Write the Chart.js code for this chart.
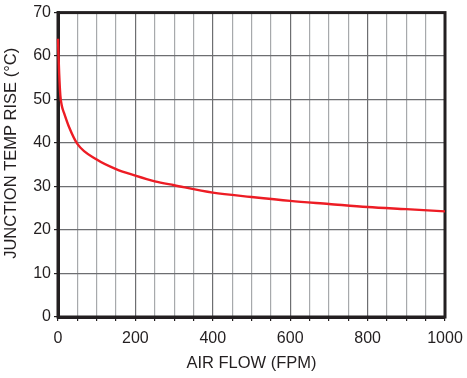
<!DOCTYPE html>
<html>
<head>
<meta charset="utf-8">
<script src="https://cdn.jsdelivr.net/npm/chart.js@4"></script>
<style>
  html, body { margin: 0; padding: 0; background: #fff; }
  #wrap { width: 467px; height: 378px; }
</style>
</head>
<body>
<div id="wrap"><canvas id="c" width="467" height="378"></canvas></div>
<script>
// air flow (FPM) and junction temperature rise (°C)
const airFlow = [0, 1, 3, 6, 10, 16, 28, 50, 100, 150, 200, 250, 300, 400, 500, 600, 700, 800, 900, 1000];
const tempRise = [64, 61, 56, 51, 48.5, 46.8, 43.8, 39.8, 36.2, 34.0, 32.5, 31.2, 30.3, 28.6, 27.6, 26.7, 26.0, 25.3, 24.8, 24.3];

const xMin = 0, xMax = 1000, xStep = 50, xLabelStep = 200;
const yMin = 0, yMax = 70, yStep = 10;

const FONT = "'Liberation Sans', Arial, Helvetica, sans-serif";
const TEXT = "#231f20";

// plot frame, drawn under the curve like in the original
const frame = {
  id: "frame",
  beforeDatasetsDraw(chart) {
    const { ctx, chartArea: a } = chart;
    ctx.save();
    ctx.strokeStyle = "#231f20";
    ctx.lineWidth = 3;
    ctx.strokeRect(a.left, a.top, a.right - a.left, a.bottom - a.top);
    ctx.restore();
  },
};

new Chart(document.getElementById("c"), {
  type: "line",
  data: {
    datasets: [{
      data: airFlow.map((x, i) => ({ x, y: tempRise[i] })),
      borderColor: "#ed1c24",
      borderWidth: 2.4,
      pointRadius: 0,
      cubicInterpolationMode: "monotone",
      fill: false,
      clip: false,
    }],
  },
  options: {
    responsive: false,
    animation: false,
    layout: { padding: { top: 10, right: 22, left: 0, bottom: 5 } },
    plugins: { legend: { display: false }, tooltip: { enabled: false } },
    scales: {
      x: {
        type: "linear",
        min: xMin,
        max: xMax,
        afterFit(s) { s.height = 56; s.paddingRight = 0; },
        ticks: {
          stepSize: xStep,
          autoSkip: false,
          maxRotation: 0,
          padding: 8,
          color: TEXT,
          font: { family: FONT, size: 16 },
          callback: (v) => (v % xLabelStep === 0 ? v : ""),
        },
        grid: {
          color: (c) => (c.tick && c.tick.value % xLabelStep === 0 ? "#6d6e71" : "#a7a9ac"),
          lineWidth: 1.2,
          tickLength: 4,
          tickColor: "#231f20",
        },
        border: { display: true, color: "#231f20", width: 3 },
        title: {
          display: true,
          text: "AIR FLOW (FPM)",
          color: TEXT,
          font: { family: FONT, size: 16.5 },
          padding: { top: 6, bottom: 0 },
        },
      },
      y: {
        min: yMin,
        max: yMax,
        afterFit(s) { s.width = 58; },
        ticks: {
          stepSize: yStep,
          padding: 3,
          color: TEXT,
          font: { family: FONT, size: 16 },
        },
        grid: {
          color: "#6d6e71",
          lineWidth: 1.2,
          tickLength: 4,
          tickColor: "#231f20",
        },
        border: { display: true, color: "#231f20", width: 3 },
        title: {
          display: true,
          text: "\u00a0\u00a0\u00a0\u00a0\u00a0JUNCTION TEMP RISE (°C)",
          color: TEXT,
          font: { family: FONT, size: 16.5 },
          padding: { top: 2, bottom: 0 },
        },
      },
    },
  },
  plugins: [frame],
});
</script>
</body>
</html>
